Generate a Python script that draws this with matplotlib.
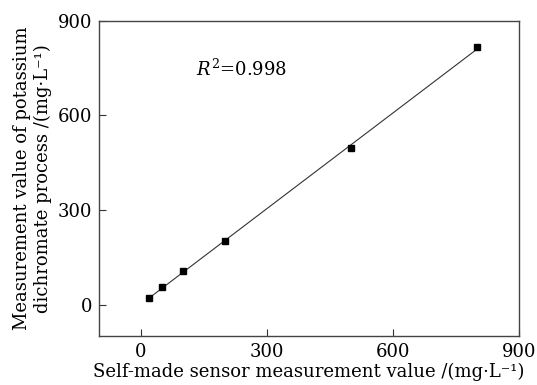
import numpy as np
import matplotlib
matplotlib.use("Agg")
import matplotlib.pyplot as plt

plt.rcParams['font.family'] = 'DejaVu Serif'
plt.rcParams['mathtext.fontset'] = 'dejavuserif'

# data
sensor = np.array([20, 50, 100, 200, 500, 800])
dichromate = np.array([20, 54, 106, 203, 496, 817])
ticks = [0, 300, 600, 900]

k, b = np.polyfit(sensor, dichromate, 1)
xfit = np.array([sensor.min(), sensor.max()])

fig = plt.figure(figsize=(5.37, 3.85), dpi=100)
ax = fig.add_axes([99/537, 1 - 336/385, 420/537, 315/385])

ax.plot(xfit, k*xfit + b, color='#333333', lw=0.8)
ax.plot(sensor, dichromate, 's', color='black', ms=4.5)

ax.set_xlim(-100, 900)
ax.set_ylim(-100, 900)
ax.set_xticks(ticks)
ax.set_yticks(ticks)
ax.tick_params(direction='in', length=5, width=0.8, labelsize=13, pad=5, color='#333333')
for s in ax.spines.values():
    s.set_linewidth(1.0)
    s.set_color('#444444')

ax.text(132, 746, r'$\mathit{R}^2$=0.998', fontsize=13, va='center')

ax.set_xlabel('Self-made sensor measurement value /(mg·L⁻¹)', fontsize=13, labelpad=1)
ax.set_ylabel('Measurement value of potassium\ndichromate process /(mg·L⁻¹)', fontsize=13, labelpad=4)

fig.savefig('out.png', dpi=100)
